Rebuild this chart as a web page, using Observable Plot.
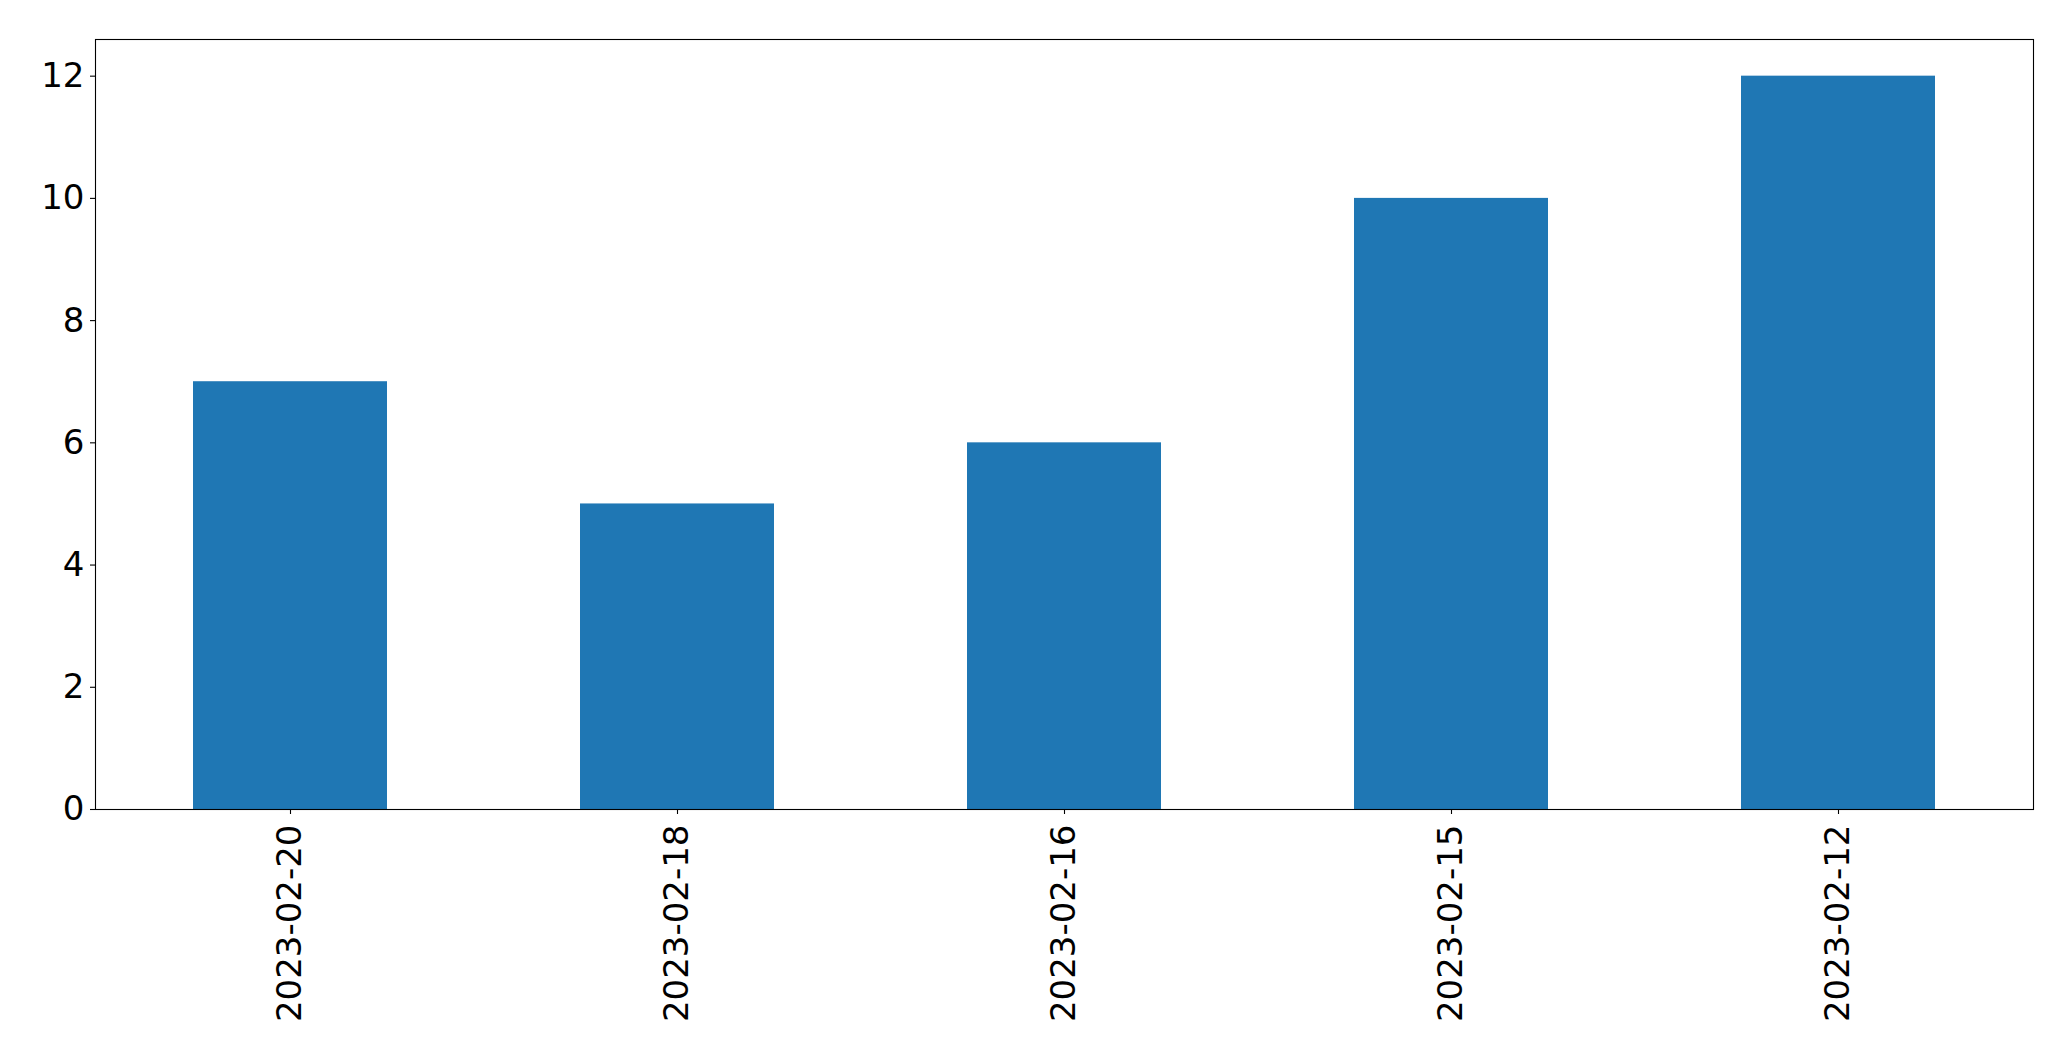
<!DOCTYPE html>
<html>
<head>
<meta charset="utf-8">
<script src="https://cdn.jsdelivr.net/npm/d3@7"></script>
<script src="https://cdn.jsdelivr.net/npm/@observablehq/plot@0.6"></script>
<style>
  html, body { margin: 0; padding: 0; background: #fff; }
  svg { display: block; }
</style>
</head>
<body>
<div id="chart"></div>
<script>
const dates = ["2023-02-20", "2023-02-18", "2023-02-16", "2023-02-15", "2023-02-12"];
const counts = [7, 5, 6, 10, 12];
const yTicks = [0, 2, 4, 6, 8, 10, 12];

const data = dates.map((d, i) => ({date: d, count: counts[i]}));

const chart = Plot.plot({
  width: 2071,
  height: 1061,
  marginLeft: 95,
  marginRight: 38,
  marginTop: 39,
  marginBottom: 252,
  style: {fontFamily: "DejaVu Sans", fontSize: "34px", background: "#fff", color: "#000"},
  x: {type: "band", domain: dates, paddingInner: 0.5, paddingOuter: 0.25, label: null},
  y: {domain: [0, 12.6], label: null},
  marks: [
    Plot.barY(data, {x: "date", y: "count", fill: "#1f77b4"}),
    Plot.axisY({ticks: yTicks, tickSize: 5, tickPadding: 6, fontSize: 34, label: null, stroke: "#000", strokeWidth: 1.1, fill: "#000"}),
    Plot.axisX({tickSize: 5, tickPadding: 10, tickRotate: -90, fontSize: 34, label: null, stroke: "#000", strokeWidth: 1.1, fill: "#000"}),
    Plot.frame({stroke: "#000", strokeWidth: 1.1})
  ]
});
document.getElementById("chart").appendChild(chart);
</script>
</body>
</html>
